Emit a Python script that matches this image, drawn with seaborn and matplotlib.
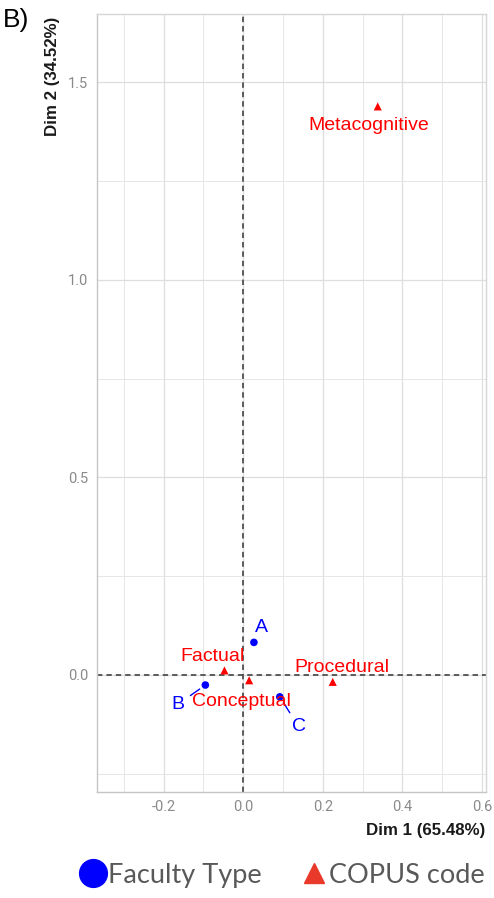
import matplotlib
matplotlib.use("Agg")
import matplotlib.pyplot as plt
import seaborn as sns
import pandas as pd
from matplotlib.lines import Line2D

# Correspondence analysis coordinates
faculty_labels = ["A", "B", "C"]
faculty_dim1 = [0.027, -0.095, 0.092]
faculty_dim2 = [0.082, -0.026, -0.056]

copus_labels = ["Factual", "Conceptual", "Procedural", "Metacognitive"]
copus_dim1 = [-0.047, 0.015, 0.225, 0.338]
copus_dim2 = [0.011, -0.014, -0.018, 1.439]

dim1_title = "Dim 1 (65.48%)"
dim2_title = "Dim 2 (34.52%)"
panel_tag = "B)"
legend_labels = ["Faculty Type", "COPUS code"]

x_ticks = [-0.2, 0.0, 0.2, 0.4, 0.6]
x_minor = [-0.3, -0.1, 0.1, 0.3, 0.5]
y_ticks = [0.0, 0.5, 1.0, 1.5]
y_minor = [-0.25, 0.25, 0.75, 1.25]

faculty_df = pd.DataFrame({"label": faculty_labels, "dim1": faculty_dim1, "dim2": faculty_dim2})
copus_df = pd.DataFrame({"label": copus_labels, "dim1": copus_dim1, "dim2": copus_dim2})

# label offsets in pixels (repelled text placement), and whether a leader segment is drawn
label_offsets = {
    "A": ((8, 15), False),
    "B": ((-27, -19), True),
    "C": ((19, -30), True),
    "Factual": ((-12, 14), False),
    "Conceptual": ((-8, -21), False),
    "Procedural": ((9, 14), False),
    "Metacognitive": ((-9, -19), False),
}

sns.set_theme(style="white")
plt.rcParams["font.family"] = ["Liberation Sans", "DejaVu Sans"]
plt.rcParams["axes.unicode_minus"] = False

BLUE = "#0000ff"
RED = "#ff0000"

fig = plt.figure(figsize=(4.94, 8.98), dpi=100)
ax = fig.add_axes([0.1957, 0.1184, 0.7881, 0.8660])

ax.set_xlim(-0.368, 0.610)
ax.set_ylim(-0.296, 1.673)

ax.set_xticks(x_ticks)
ax.set_xticks(x_minor, minor=True)
ax.set_yticks(y_ticks)
ax.set_yticks(y_minor, minor=True)
ax.set_xticklabels([f"{v:.1f}" for v in x_ticks])
ax.set_yticklabels([f"{v:.1f}" for v in y_ticks])

ax.grid(which="major", color="#dedede", linewidth=0.9)
ax.grid(which="minor", color="#e6e6e6", linewidth=0.7)
ax.set_axisbelow(True)

for side, sp in ax.spines.items():
    sp.set_color("#c6c6c6" if side in ("left", "bottom") else "#d6d6d6")
    sp.set_linewidth(1.0)

ax.tick_params(axis="both", which="major", length=3, width=0.8, color="#bdbdbd",
               labelcolor="#8a8a8a", labelsize=10.5, pad=3)
ax.tick_params(axis="both", which="minor", length=0)
for lbl in ax.get_xticklabels() + ax.get_yticklabels():
    lbl.set_family(["Roboto", "DejaVu Sans"])

ax.axhline(0, color="#505050", linewidth=1.3, linestyle=(0, (3, 2.2)), zorder=1)
ax.axvline(0, color="#505050", linewidth=1.3, linestyle=(0, (3, 2.2)), zorder=1)

sns.scatterplot(data=faculty_df, x="dim1", y="dim2", color=BLUE, marker="o",
                s=30, edgecolor="none", legend=False, ax=ax, zorder=3)
sns.scatterplot(data=copus_df, x="dim1", y="dim2", color=RED, marker="^",
                s=34, edgecolor="none", legend=False, ax=ax, zorder=3)
ax.set_xlabel("")
ax.set_ylabel("")

def place_labels(df, color):
    for _, row in df.iterrows():
        (dx, dy), seg = label_offsets[row["label"]]
        props = None
        if seg:
            props = dict(arrowstyle="-", color=color, lw=1.0, shrinkA=2, shrinkB=5)
        ax.annotate(row["label"], (row["dim1"], row["dim2"]), xytext=(dx, dy),
                    textcoords="offset pixels", ha="center", va="center",
                    color=color, fontsize=14, arrowprops=props, zorder=4)

place_labels(faculty_df, BLUE)
place_labels(copus_df, RED)

fig.text(485 / 494, 1 - 830 / 898, dim1_title, ha="right", va="center",
         fontsize=12.2, fontweight="bold", color="#1a1a1a")
fig.text(53 / 494, 1 - 76 / 898, dim2_title, ha="center", va="center",
         rotation=90, fontsize=12.2, fontweight="bold", color="#1a1a1a")
fig.text(3 / 494, 1 - 20 / 898, panel_tag, ha="left", va="center",
         fontsize=19, color="black")

handles = [
    Line2D([], [], marker="o", linestyle="none", color=BLUE, markersize=20),
    Line2D([], [], marker="^", linestyle="none", color="#e8392b", markersize=15),
]
fig.legend(handles=handles, labels=legend_labels, loc="center",
           bbox_to_anchor=(0.571, 0.0256), ncol=2, frameon=False,
           handletextpad=0.05, columnspacing=1.42, labelcolor="#595959",
           prop={"family": ["Lato", "DejaVu Sans"], "size": 19.5},
           handlelength=1.0)

fig.savefig("out.png", dpi=100)
